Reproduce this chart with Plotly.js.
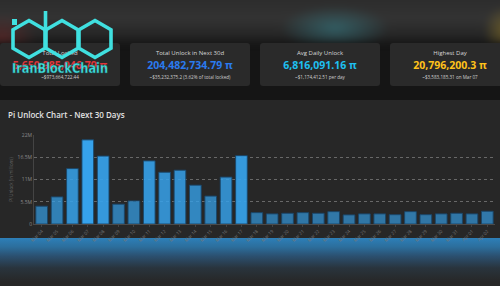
<!DOCTYPE html>
<html>
<head>
<meta charset="utf-8">
<script src="https://cdn.plot.ly/plotly-3.0.1.min.js"></script>
<style>
  html, body { margin:0; padding:0; width:500px; height:286px; overflow:hidden; background:#151515; font-family:"Open Sans","Noto Sans",sans-serif; }
  #header { position:absolute; left:-10px; top:-10px; width:520px; height:53px;
    background:
      radial-gradient(ellipse 55px 22px at 345px 38px, rgba(55,125,135,0.6), rgba(55,125,135,0) 100%),
      radial-gradient(ellipse 35px 25px at 12px 48px, rgba(120,40,40,0.5), rgba(120,40,40,0) 100%),
      radial-gradient(ellipse 22px 25px at 515px 40px, rgba(150,125,40,0.55), rgba(150,125,40,0) 100%),
      linear-gradient(#2a2a2a, #333 55%, #262626 85%, #1b1b1b);
    filter: blur(3px); }
  .card { position:absolute; top:43px; width:120px; height:43px; background:#2a2a2a; border-radius:3px; text-align:center; }
  .card .lbl { position:absolute; top:6px; left:0; width:100%; font-size:6px; color:#d8d8d8; }
  .card .val { position:absolute; top:15px; left:0; width:100%; font-size:10.5px; font-weight:700; }
  .card .sub { position:absolute; top:31px; left:0; width:100%; font-size:4.6px; color:#cfcfcf; }
  #panel { position:absolute; left:0; top:100px; width:500px; height:140px; background:#272727; }
  #glow { position:absolute; left:0; top:238px; width:500px; height:48px;
    background: linear-gradient(#2d7fb8 0px, #2c6e9c 9px, #2b5070 18px, #29343d 30px, #272727 44px); }
  #chart { position:absolute; left:0; top:100px; width:500px; height:150px; }
  #logo { position:absolute; left:0; top:0; width:130px; height:80px; }
</style>
</head>
<body>
<div id="header"></div>
<div id="cards"></div>
<div id="panel"></div>
<div id="glow"></div>
<div id="chart"></div>
<svg id="logo" width="130" height="80" viewBox="0 0 130 80"></svg>
<script>
// ---- data ----
const dates = ["Mar 04","Mar 05","Mar 06","Mar 07","Mar 08","Mar 09","Mar 10","Mar 11","Mar 12","Mar 13",
               "Mar 14","Mar 15","Mar 16","Mar 17","Mar 18","Mar 19","Mar 20","Mar 21","Mar 22","Mar 23",
               "Mar 24","Mar 25","Mar 26","Mar 27","Mar 28","Mar 29","Mar 30","Mar 31","Apr 01","Apr 02"];
const unlockValues = [4.4e6, 6.7e6, 13.7e6, 20.796e6, 16.8e6, 4.9e6, 5.7e6, 15.6e6, 12.8e6, 13.3e6,
                      9.6e6, 6.9e6, 11.6e6, 16.9e6, 2.8e6, 2.5e6, 2.65e6, 2.8e6, 2.65e6, 3.05e6,
                      2.25e6, 2.5e6, 2.5e6, 2.3e6, 3.05e6, 2.3e6, 2.5e6, 2.65e6, 2.5e6, 3.15e6];
const yTickVals = [0, 5.5e6, 11e6, 16.5e6, 22e6];
const yTickText = ["0", "5.5M", "11M", "16.5M", "22M"];

const cardLabels = ["Total Locked", "Total Unlock in Next 30d", "Avg Daily Unlock", "Highest Day"];
const cardValues = ["5,650,985,046.79 π", "204,482,734.79 π", "6,816,091.16 π", "20,796,200.3 π"];
const cardSubs = ["~$973,664,722.44", "~$35,232,375.2 (3.62% of total locked)", "~$1,174,412.51 per day", "~$3,583,185.31 on Mar 07"];
const cardColors = ["#e0353b", "#2a7bf0", "#1ec0f0", "#ffc21a"];

// ---- cards ----
const cardsDiv = document.getElementById('cards');
cardLabels.forEach((lbl, i) => {
  const c = document.createElement('div');
  c.className = 'card';
  c.style.left = (130 * i) + 'px';
  c.innerHTML = '<div class="lbl">' + lbl + '</div><div class="val" style="color:' + cardColors[i] + '">' +
    cardValues[i] + '</div><div class="sub">' + cardSubs[i] + '</div>';
  cardsDiv.appendChild(c);
});

// ---- logo ----
const svg = document.getElementById('logo');
const NS = 'http://www.w3.org/2000/svg';
function hex(cx, cy, r) {
  const pts = [];
  for (let k = 0; k < 6; k++) {
    const a = Math.PI / 180 * (60 * k - 90);
    pts.push((cx + r * Math.cos(a)).toFixed(1) + ',' + (cy + r * Math.sin(a)).toFixed(1));
  }
  return pts.join(' ');
}
const logoColor = '#40e0e0';
[[29, 39], [62, 39], [95, 39]].forEach(([cx, cy]) => {
  const p = document.createElementNS(NS, 'polygon');
  p.setAttribute('points', hex(cx, cy, 18.5));
  p.setAttribute('fill', 'none');
  p.setAttribute('stroke', logoColor);
  p.setAttribute('stroke-width', '3.6');
  svg.appendChild(p);
});
const dot = document.createElementNS(NS, 'rect');
dot.setAttribute('x', 12); dot.setAttribute('y', 19); dot.setAttribute('width', 5); dot.setAttribute('height', 6);
dot.setAttribute('fill', logoColor); svg.appendChild(dot);
const stem = document.createElementNS(NS, 'line');
stem.setAttribute('x1', 45.5); stem.setAttribute('y1', 11); stem.setAttribute('x2', 45.5); stem.setAttribute('y2', 32);
stem.setAttribute('stroke', logoColor); stem.setAttribute('stroke-width', '3.6'); svg.appendChild(stem);
const t = document.createElementNS(NS, 'text');
t.setAttribute('x', 12); t.setAttribute('y', 73);
t.setAttribute('textLength', 96); t.setAttribute('lengthAdjust', 'spacingAndGlyphs');
t.setAttribute('font-family', 'Verdana, "DejaVu Sans", sans-serif');
t.setAttribute('font-size', '14'); t.setAttribute('font-weight', '700');
t.setAttribute('fill', logoColor); t.setAttribute('stroke', '#1a5a5a'); t.setAttribute('stroke-width', '0.4');
t.textContent = 'IranBlockChain';
svg.appendChild(t);

// ---- chart ----
const maxV = Math.max(...unlockValues);
const barColors = unlockValues.map(v => 'rgba(54,162,235,' + (0.6 + 0.4 * v / maxV).toFixed(3) + ')');

Plotly.newPlot('chart', [{
  type: 'bar',
  x: dates,
  y: unlockValues,
  marker: { color: barColors, line: { color: 'rgba(25,70,105,0.9)', width: 1 } },
  hoverinfo: 'none'
}], {
  width: 500, height: 150,
  margin: { l: 34, r: 5, t: 35, b: 26, pad: 0 },
  paper_bgcolor: 'rgba(0,0,0,0)',
  plot_bgcolor: 'rgba(0,0,0,0)',
  bargap: 0.24,
  showlegend: false,
  font: { family: '"Open Sans", "Noto Sans", sans-serif', color: '#888' },
  title: {
    text: 'Pi Unlock Chart - Next 30 Days',
    x: 8 / 500, xref: 'container', xanchor: 'left',
    y: 1 - 15 / 150, yref: 'container', yanchor: 'middle',
    font: { size: 8, color: '#e2e2e2', weight: 600 }
  },
  xaxis: {
    type: 'category',
    tickangle: -45,
    tickfont: { size: 4.5, color: '#777' },
    showgrid: false,
    showline: true, linecolor: '#4a4a4a', linewidth: 1,
    ticks: 'outside', ticklen: 2, tickcolor: '#444',
    automargin: false,
    fixedrange: true
  },
  yaxis: {
    range: [0, 22e6],
    tickvals: yTickVals, ticktext: yTickText,
    tickfont: { size: 5, color: '#8a8a8a' },
    showgrid: true, gridcolor: 'rgba(255,255,255,0.3)', griddash: 'dot', gridwidth: 1,
    zeroline: false,
    showline: true, linecolor: '#444', linewidth: 1,
    ticks: '', automargin: false,
    title: { text: 'Pi Unlock (in millions)', font: { size: 4.5, color: '#666' }, standoff: 4 },
    fixedrange: true
  }
}, { staticPlot: true, displayModeBar: false });
</script>
</body>
</html>
